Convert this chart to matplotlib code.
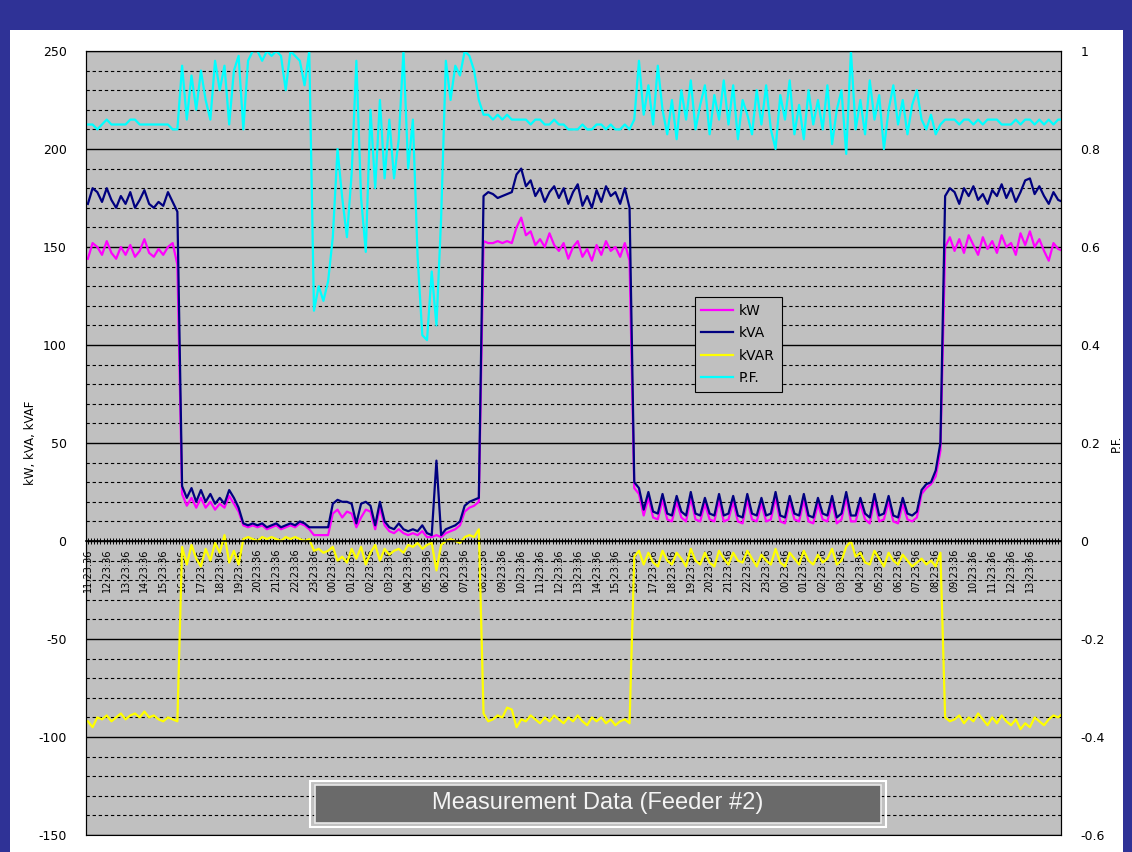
import numpy as np
import matplotlib.pyplot as plt
from matplotlib.patches import Rectangle
from matplotlib.ticker import MultipleLocator, FixedLocator

plt.rcParams['axes.unicode_minus'] = False

# samples every 15 min, starting 11:23:36 (one row = one hour)
kva = [
    172, 180, 178, 173,  180, 174, 170, 176,  172, 178, 170, 174,  179, 172, 170, 173,
    171, 178, 173, 168,  28, 22, 27, 20,  26, 20, 24, 19,  22, 19, 26, 22,
    17, 9, 8, 9,  8, 9, 7, 8,  9, 7, 8, 9,  8, 10, 9, 7,
    7, 7, 7, 7,  19, 21, 20, 20,  19, 9, 19, 20,  18, 8, 20, 10,
    7, 6, 9, 6,  5, 6, 5, 8,  4, 3, 41, 3,  6, 7, 8, 10,
    18, 20, 21, 22,  176, 178, 177, 175,  176, 177, 178, 187,  190, 181, 184, 176,
    180, 173, 178, 181,  175, 180, 172, 178,  182, 171, 176, 170,  179, 173, 181, 176,
    178, 172, 180, 170,  30, 27, 16, 25,  15, 14, 24, 14,  13, 23, 15, 13,
    25, 14, 13, 22,  14, 13, 24, 13,  14, 23, 13, 12,  24, 14, 13, 22,
    13, 14, 25, 13,  12, 23, 14, 13,  24, 13, 12, 22,  14, 13, 23, 12,
    14, 25, 13, 13,  22, 14, 12, 24,  13, 14, 23, 13,  12, 22, 14, 13,
    15, 26, 29, 30,  36, 50, 176, 180,  178, 172, 180, 176,  181, 174, 177, 172,
    179, 176, 182, 175,  180, 173, 178, 184,  185, 177, 181, 176,  172, 178, 174, 173,
]
kw = [
    144, 152, 150, 146,  153, 147, 144, 150,  146, 151, 145, 148,  154, 147, 145, 149,
    146, 150, 152, 141,  24, 18, 22, 17,  22, 17, 20, 16,  19, 17, 23, 19,
    15, 8, 7, 8,  7, 8, 6, 7,  8, 6, 7, 8,  7, 9, 8, 6,
    3, 3, 3, 3,  14, 16, 12, 15,  14, 7, 12, 16,  15, 6, 17, 8,
    5, 4, 6, 4,  3, 4, 3, 5,  2, 2, 3, 2,  4, 5, 6, 8,
    15, 17, 18, 20,  153, 152, 152, 153,  152, 153, 152, 160,  165, 156, 158, 151,
    154, 150, 157, 151,  148, 152, 144, 150,  153, 145, 149, 143,  151, 146, 153, 148,
    150, 145, 152, 143,  27, 24, 13, 22,  12, 11, 21, 11,  10, 20, 12, 10,
    22, 11, 10, 19,  11, 10, 21, 10,  11, 20, 10, 9,  21, 11, 10, 19,
    10, 11, 22, 10,  9, 20, 11, 10,  21, 10, 9, 19,  11, 10, 20, 9,
    11, 22, 10, 10,  19, 11, 9, 21,  10, 11, 20, 10,  9, 19, 11, 10,
    12, 24, 27, 29,  33, 46, 150, 155,  148, 154, 147, 156,  151, 146, 155, 149,
    153, 147, 156, 150,  152, 146, 157, 151,  158, 150, 154, 148,  143, 152, 149, 148,
]
kvar = [
    -92, -95, -90, -91,  -89, -92, -90, -88,  -91, -89, -88, -90,  -87, -90, -89, -91,
    -92, -90, -91, -92,  -3, -12, -2, -9,  -13, -4, -10, -1,  -6, 3, -11, -5,
    -12, 1, 2, 1,  0, 2, 1, 2,  1, 0, 2, 1,  2, 1, 0, 1,
    -5, -4, -6, -5,  -3, -10, -8, -11,  -4, -9, -3, -12,  -6, -2, -10, -4,
    -7, -5, -4, -6,  -2, -3, -1, -4,  -2, -1, -15, -2,  0, 1, 0, -1,
    2, 3, 2, 6,  -88, -92, -91, -89,  -90, -85, -86, -95,  -91, -92, -89, -91,
    -93, -90, -92, -89,  -91, -93, -90, -92,  -89, -92, -94, -90,  -92, -90, -93, -91,
    -94, -92, -91, -93,  -8, -5, -12, -6,  -11, -13, -5, -10,  -12, -6, -9, -13,
    -4, -10, -12, -6,  -11, -13, -5, -9,  -12, -6, -10, -11,  -5, -9, -13, -7,
    -10, -12, -4, -11,  -13, -6, -9, -12,  -5, -10, -12, -7,  -11, -9, -4, -12,
    -10, -3, 0, -8,  -6, -11, -12, -5,  -9, -13, -6, -10,  -12, -7, -10, -13,
    -11, -9, -12, -10,  -13, -6, -90, -92,  -91, -89, -93, -90,  -92, -88, -91, -94,
    -90, -93, -89, -92,  -94, -91, -96, -93,  -95, -90, -92, -94,  -91, -89, -90, -88,
]
pf = [
    0.85, 0.85, 0.84, 0.85,  0.86, 0.85, 0.85, 0.85,  0.85, 0.86, 0.86, 0.85,  0.85, 0.85, 0.85, 0.85,
    0.85, 0.85, 0.84, 0.84,  0.97, 0.86, 0.95, 0.88,  0.96, 0.90, 0.86, 0.98,  0.92, 0.97, 0.85, 0.96,
    0.99, 0.84, 0.98, 1.00,  1.00, 0.98, 1.00, 0.99,  1.00, 0.99, 0.92, 1.00,  0.99, 0.98, 0.93, 1.00,
    0.47, 0.52, 0.49, 0.53,  0.62, 0.80, 0.70, 0.62,  0.75, 0.98, 0.70, 0.59,  0.88, 0.72, 0.90, 0.74,
    0.86, 0.74, 0.82, 1.00,  0.76, 0.86, 0.58, 0.42,  0.41, 0.55, 0.44, 0.66,  0.98, 0.90, 0.97, 0.95,
    1.00, 0.99, 0.96, 0.90,  0.87, 0.87, 0.86, 0.87,  0.86, 0.87, 0.86, 0.86,  0.86, 0.86, 0.85, 0.86,
    0.86, 0.85, 0.85, 0.86,  0.85, 0.85, 0.84, 0.84,  0.84, 0.85, 0.84, 0.84,  0.85, 0.85, 0.84, 0.85,
    0.84, 0.84, 0.85, 0.84,  0.86, 0.98, 0.87, 0.93,  0.85, 0.97, 0.88, 0.83,  0.90, 0.82, 0.92, 0.86,
    0.94, 0.84, 0.89, 0.93,  0.83, 0.91, 0.86, 0.94,  0.85, 0.93, 0.82, 0.90,  0.87, 0.83, 0.92, 0.85,
    0.93, 0.84, 0.80, 0.91,  0.86, 0.94, 0.83, 0.89,  0.82, 0.92, 0.85, 0.90,  0.84, 0.93, 0.81, 0.88,
    0.92, 0.79, 1.00, 0.84,  0.90, 0.83, 0.94, 0.86,  0.91, 0.80, 0.88, 0.93,  0.85, 0.90, 0.83, 0.89,
    0.92, 0.86, 0.84, 0.87,  0.83, 0.85, 0.86, 0.86,  0.86, 0.85, 0.86, 0.86,  0.85, 0.86, 0.85, 0.86,
    0.86, 0.86, 0.85, 0.85,  0.85, 0.86, 0.85, 0.86,  0.86, 0.85, 0.86, 0.85,  0.86, 0.85, 0.86, 0.86,
]
start_hour = 11
n_hours = 51
time_labels = ["%02d:23:36" % ((start_hour + h) % 24) for h in range(n_hours)]

W, H = 1132, 852
t = np.arange(len(kva)) * 0.25

fig = plt.figure(figsize=(W / 100, H / 100), dpi=100)
fig.patch.set_facecolor('white')

def px_rect(x0, y0, x1, y1, **kw):
    r = Rectangle((x0 / W, 1 - y1 / H), (x1 - x0) / W, (y1 - y0) / H,
                  transform=fig.transFigure, **kw)
    fig.add_artist(r)
    return r

# blue frame around the white panel
blue = '#2f3296'
px_rect(0, 0, W, 30, facecolor=blue, edgecolor='none')
px_rect(0, 0, 10, H, facecolor=blue, edgecolor='none')
px_rect(1123, 0, W, H, facecolor=blue, edgecolor='none')

ax = fig.add_axes([86 / W, (H - 835) / H, 975 / W, 784 / H])
ax.set_facecolor('#c0c0c0')
ax.set_xlim(-0.1, 51.65)
ax.set_ylim(-150, 250)

ax.yaxis.set_major_locator(MultipleLocator(50))
ax.yaxis.set_minor_locator(MultipleLocator(10))
ax.grid(axis='y', which='major', color='black', lw=1.0)
ax.grid(axis='y', which='minor', color='black', lw=0.8, linestyle=(0, (3, 2.5)))
ax.set_axisbelow(True)

l1, = ax.plot(t, kw, color='#ff00ff', lw=1.6)
l2, = ax.plot(t, kva, color='#000080', lw=1.6)
l3, = ax.plot(t, kvar, color='#ffff00', lw=1.6)

ax.spines['bottom'].set_position(('data', 0))
ax.spines['bottom'].set_linewidth(1.2)
for s in ['left', 'right', 'top']:
    ax.spines[s].set_linewidth(0.8)

ax.xaxis.set_major_locator(FixedLocator(range(n_hours)))
ax.set_xticklabels(time_labels, rotation=90, fontsize=7, va='top')
ax.xaxis.set_minor_locator(MultipleLocator(1 / 6))
ax.tick_params(axis='x', which='both', direction='inout', length=5, width=0.7, pad=3)
ax.tick_params(axis='y', which='both', length=0, pad=14, labelsize=9)

ax.set_ylabel('kW, kVA, kVAF', fontsize=8.5)
ax.yaxis.set_label_coords(-0.05, 0.5)

ax2 = ax.twinx()
ax2.set_ylim(-0.6, 1)
l4, = ax2.plot(t, pf, color='#00ffff', lw=1.6)
pf_ticks = [-0.6, -0.4, -0.2, 0, 0.2, 0.4, 0.6, 0.8, 1]
ax2.yaxis.set_major_locator(FixedLocator(pf_ticks))
ax2.set_yticklabels(['%g' % v for v in pf_ticks])
ax2.tick_params(axis='y', length=0, pad=14, labelsize=9)
ax2.set_ylabel('P.F.', fontsize=8.5)
ax2.yaxis.set_label_coords(1.05, 0.5)
for s in ax2.spines.values():
    s.set_linewidth(0.8)

leg = ax2.legend([l1, l2, l3, l4], ['kW', 'kVA', 'kVAR', 'P.F.'],
                 loc='upper left', bbox_to_anchor=(0.617, 0.695),
                 fancybox=False, edgecolor='black', facecolor='#c0c0c0',
                 framealpha=1, fontsize=10, handlelength=2.3, labelspacing=0.6,
                 borderpad=0.5, handletextpad=0.4)
leg.get_frame().set_linewidth(0.8)

# title box at the bottom
px_rect(310, 781, 886, 827, facecolor='none', edgecolor='white', lw=1.5)
px_rect(315, 785, 881, 823, facecolor='#6a6a6a', edgecolor='#e8e8e8', lw=1.2)
fig.text(598 / W, 1 - 803 / H, 'Measurement Data (Feeder #2)', color='#f4f4f4',
         fontsize=17, ha='center', va='center', family='Liberation Sans')

fig.savefig('out.png', dpi=100)
